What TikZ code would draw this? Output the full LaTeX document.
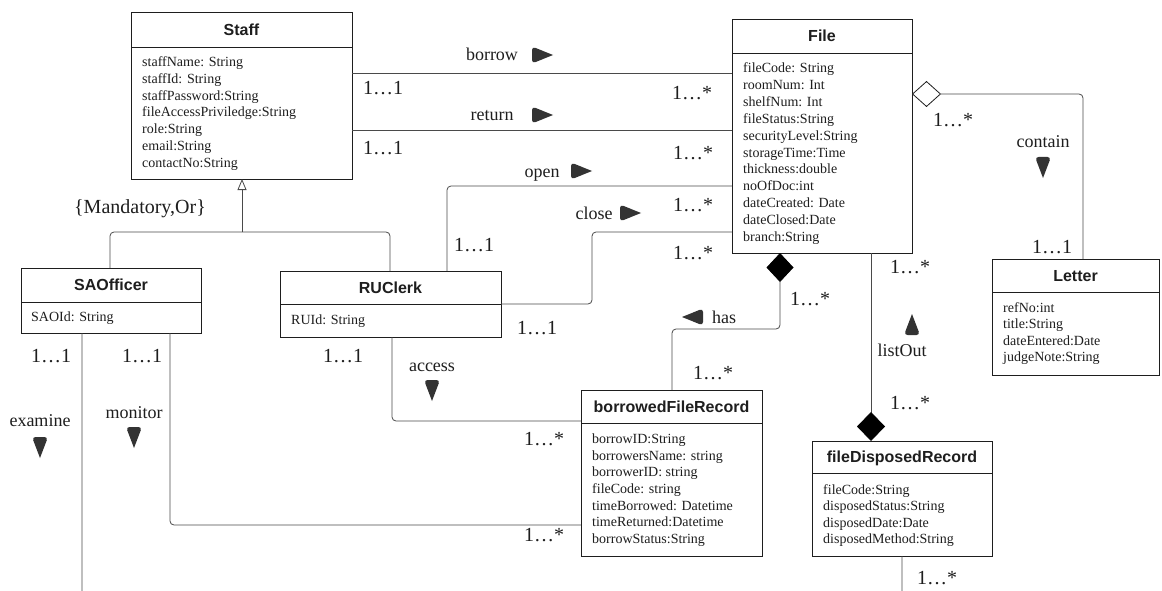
\documentclass[tikz,border=0pt]{standalone}
\usepackage{fontspec}
\setmainfont{Liberation Serif}
\newfontfamily\headfont{Liberation Sans}
\usetikzlibrary{arrows.meta}
\definecolor{ink}{HTML}{1E1E1E}
\definecolor{wire}{HTML}{4A4A4A}
\definecolor{tipfill}{HTML}{333333}

\begin{document}
\begin{tikzpicture}[x=1pt,y=-1pt,
  cls/.style={draw=ink, line width=0.9pt, anchor=north west, inner sep=0pt, outer sep=0pt},
  head/.style={font=\headfont\bfseries\fontsize{16}{19}\selectfont, text=ink, inner sep=0pt, text height=11.5pt, text depth=0pt},
  attr/.style={anchor=north west, inner sep=0pt, align=left, text=ink, font=\fontsize{14}{16.8}\selectfont, execute at begin node={\rule{0pt}{10pt}}},
  attrtight/.style={attr, font=\fontsize{14}{16.3}\selectfont},
  rule/.style={draw=ink, line width=0.9pt},
  assoc/.style={draw=wire, line width=0.8pt, rounded corners=4pt},
  lbl/.style={font=\fontsize{18}{21}\selectfont, text=ink, inner sep=0pt, text height=12pt, text depth=0pt},
  mult/.style={font=\fontsize{20}{24}\selectfont, text=ink, inner sep=0pt, text height=13.5pt, text depth=0pt},
  % reading-direction markers: rounded back, pointed tip
  triR/.pic={\fill[tipfill] (11,0) [rounded corners=3.5pt] -- (-10,-8.5) -- (-10,8.5) [sharp corners] -- cycle;},
  triL/.pic={\fill[tipfill] (-11,0) [rounded corners=3.5pt] -- (10,-8.5) -- (10,8.5) [sharp corners] -- cycle;},
  triD/.pic={\fill[tipfill] (0,11) [rounded corners=3.5pt] -- (-8,-10) -- (8,-10) [sharp corners] -- cycle;},
  triU/.pic={\fill[tipfill] (0,-11) [rounded corners=3.5pt] -- (-8,10) -- (8,10) [sharp corners] -- cycle;}
]
\fill[white] (0,0) rectangle (1162,591);
\useasboundingbox (0,0) rectangle (1162,591);

% ---------- classes ----------
% Staff
\node[cls, minimum width=221pt, minimum height=167pt] (staff) at (131,12) {};
\node[head] (staffT) at (staff.north |- 0,29.5) {Staff};
\draw[rule] (staff.west |- 0,47) -- (staff.east |- 0,47);
\node[attr] (staffA) at (142,56.5) {staffName: String\\staffId: String\\staffPassword:String\\fileAccessPriviledge:String\\role:String\\email:String\\contactNo:String};

% File
\node[cls, minimum width=180pt, minimum height=234pt] (file) at (732,19) {};
\node[head] (fileT) at (file.north |- 0,36) {File};
\draw[rule] (file.west |- 0,53) -- (file.east |- 0,53);
\node[attr, font=\fontsize{14}{16.9}\selectfont] (fileA) at (743,62.5) {fileCode: String\\roomNum: Int\\shelfNum: Int\\fileStatus:String\\securityLevel:String\\storageTime:Time\\thickness:double\\noOfDoc:int\\dateCreated: Date\\dateClosed:Date\\branch:String};

% SAOfficer
\node[cls, minimum width=180pt, minimum height=65pt] (sao) at (21,268) {};
\node[head] (saoT) at (sao.north |- 0,285) {SAOfficer};
\draw[rule] (sao.west |- 0,302) -- (sao.east |- 0,302);
\node[attr] (saoA) at (31,311.5) {SAOId: String};

% RUClerk
\node[cls, minimum width=221pt, minimum height=66pt] (ruc) at (280,271) {};
\node[head] (rucT) at (ruc.north |- 0,287.5) {RUClerk};
\draw[rule] (ruc.west |- 0,304) -- (ruc.east |- 0,304);
\node[attr] (rucA) at (291,314.5) {RUId: String};

% borrowedFileRecord
\node[cls, minimum width=181pt, minimum height=166pt] (bfr) at (581,390) {};
\node[head] (bfrT) at (bfr.north |- 0,406.5) {borrowedFileRecord};
\draw[rule] (bfr.west |- 0,423) -- (bfr.east |- 0,423);
\node[attr, font=\fontsize{14}{16.67}\selectfont] (bfrA) at (592,433.5) {borrowID:String\\borrowersName: string\\borrowerID: string\\fileCode: string\\timeBorrowed: Datetime\\timeReturned:Datetime\\borrowStatus:String};

% fileDisposedRecord
\node[cls, minimum width=180pt, minimum height=115pt] (fdr) at (812,441) {};
\node[head] (fdrT) at (fdr.north |- 0,457) {fileDisposedRecord};
\draw[rule] (fdr.west |- 0,473) -- (fdr.east |- 0,473);
\node[attrtight] (fdrA) at (823,484.5) {fileCode:String\\disposedStatus:String\\disposedDate:Date\\disposedMethod:String};

% Letter
\node[cls, minimum width=167pt, minimum height=116pt] (letter) at (992,259) {};
\node[head] (letterT) at (letter.north |- 0,275.5) {Letter};
\draw[rule] (letter.west |- 0,292) -- (letter.east |- 0,292);
\node[attrtight] (letterA) at (1003,302.5) {refNo:int\\title:String\\dateEntered:Date\\judgeNote:String};

% ---------- connectors ----------
% borrow / return
\draw[assoc] (staff.east |- 0,73) -- (file.west |- 0,73);
\draw[assoc] (staff.east |- 0,130) -- (file.west |- 0,130);

% open
\coordinate (openC) at (447,186);
\draw[assoc] (ruc.north -| openC) |- (file.west |- openC);

% close
\coordinate (closeA) at (592,304);
\coordinate (closeB) at (592,232);
\draw[assoc] (ruc.east |- closeA) -- (closeA) -- (closeB) -- (file.west |- closeB);

% generalization
\coordinate (genL) at (110,232);
\coordinate (genR) at (390,232);
\coordinate (genM) at (242,232);
\draw[assoc] (sao.north -| genL) -- (genL) -- (genR) -- (ruc.north -| genR);
\draw[draw=wire, line width=0.8pt, -{Triangle[open, length=11pt, width=9pt]}] (genM) -- (staff.south -| genM);

% examine
\coordinate (exA) at (82,597);
\coordinate (exB) at (902,597);
\draw[assoc] (sao.south -| exA) -- (exA) -- (exB) -- (fdr.south -| exB);

% monitor
\coordinate (monC) at (170,525);
\draw[assoc] (sao.south -| monC) |- (bfr.west |- monC);

% access
\coordinate (accC) at (392,421);
\draw[assoc] (ruc.south -| accC) |- (bfr.west |- accC);

% has (composition)
\coordinate (hasA) at (780,329);
\coordinate (hasB) at (672,329);
\draw[assoc, {Diamond[length=29pt, width=27pt, color=black]}-] (file.south -| hasA) -- (hasA) -- (hasB) -- (bfr.north -| hasB);

% listOut (composition)
\coordinate (lstC) at (871,0);
\draw[assoc, -{Diamond[length=29pt, width=28pt, color=black]}] (file.south -| lstC) -- (fdr.north -| lstC);

% contain (aggregation)
\coordinate (conC) at (1083,94);
\draw[assoc, {Diamond[open, length=29pt, width=26pt, color=ink, fill=white]}-] (file.east |- conC) -- (conC) -- (letter.north -| conC);

% ---------- association names ----------
\node[lbl] (lBorrow) at (492,55) {borrow};   \pic at (542,55) {triR};
\node[lbl] (lReturn) at (492,115) {return};  \pic at (542,115) {triR};
\node[lbl] (lOpen) at (542,171) {open};      \pic at (581,171) {triR};
\node[lbl] (lClose) at (594,213) {close};    \pic at (630,213) {triR};
\node[lbl] (lContain) at (1043,142) {contain}; \pic at (1043,167) {triD};
\node[lbl] (lHas) at (724,317) {has};        \pic at (693,317) {triL};
\node[lbl] (lList) at (902,350) {listOut};   \pic at (912,325) {triU};
\node[lbl] (lAccess) at (432,365) {access};  \pic at (432,390) {triD};
\node[lbl] (lExamine) at (40,420) {examine}; \pic at (40,447) {triD};
\node[lbl] (lMonitor) at (134,412) {monitor}; \pic at (134,437) {triD};
\node[mult] (lGen) at (140,207) {\{Mandatory,Or\}};

% ---------- multiplicities ----------
\node[mult] (m1) at (383,88) {1…1};
\node[mult] (m2) at (692,93) {1…*};
\node[mult] (m3) at (383,148) {1…1};
\node[mult] (m4) at (693,153) {1…*};
\node[mult] (m5) at (693,205) {1…*};
\node[mult] (m6) at (474,245) {1…1};
\node[mult] (m7) at (693,253) {1…*};
\node[mult] (m8) at (537,328) {1…1};
\node[mult] (m9) at (343,356) {1…1};
\node[mult] (m10) at (51,356) {1…1};
\node[mult] (m11) at (142,356) {1…1};
\node[mult] (m12) at (544,439) {1…*};
\node[mult] (m13) at (544,535) {1…*};
\node[mult] (m14) at (810,299) {1…*};
\node[mult] (m15) at (713,373) {1…*};
\node[mult] (m16) at (910,267) {1…*};
\node[mult] (m17) at (910,403) {1…*};
\node[mult] (m18) at (937,578) {1…*};
\node[mult] (m19) at (953,120) {1…*};
\node[mult] (m20) at (1052,247) {1…1};
\end{tikzpicture}
\end{document}
